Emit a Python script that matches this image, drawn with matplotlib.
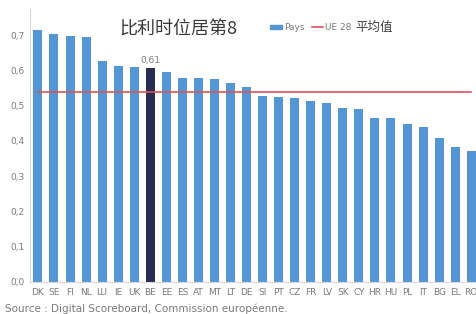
import matplotlib.pyplot as plt
from matplotlib.lines import Line2D
from matplotlib.patches import Patch

plt.rcParams['font.family'] = ['DejaVu Sans', 'Noto Sans CJK SC']

countries = ['DK', 'SE', 'FI', 'NL', 'LU', 'IE', 'UK', 'BE', 'EE', 'ES', 'AT', 'MT', 'LT', 'DE',
             'SI', 'PT', 'CZ', 'FR', 'LV', 'SK', 'CY', 'HR', 'HU', 'PL', 'IT', 'BG', 'EL', 'RO']
scores = [0.715, 0.704, 0.699, 0.696, 0.626, 0.612, 0.611, 0.607, 0.596, 0.579, 0.579, 0.575,
          0.565, 0.554, 0.528, 0.524, 0.522, 0.513, 0.507, 0.493, 0.491, 0.464, 0.464, 0.448,
          0.440, 0.408, 0.382, 0.372]
eu_mean = 0.539
highlight = 'BE'
yticks = [0.0, 0.1, 0.2, 0.3, 0.4, 0.5, 0.6, 0.7]

blue = '#5297d3'
navy = '#2a2d52'
red = '#e0505c'
grey = '#7a7a7a'

fig = plt.figure(figsize=(4.77, 3.14), dpi=100)
ax = fig.add_axes([0.063, 0.102, 0.937, 0.87])

x = list(range(len(countries)))
colors = [navy if c == highlight else blue for c in countries]
ax.bar(x, scores, width=0.56, color=colors, zorder=2)
ax.plot(x, [eu_mean] * len(x), color=red, lw=1.2, zorder=3)

i = countries.index(highlight)
ax.text(i, scores[i] + 0.008, f'{scores[i]:.2f}'.replace('.', ','), ha='center', va='bottom',
        fontsize=6.5, color=grey)

ax.set_xlim(-0.49, 27.36)
ax.set_ylim(0, 0.775)
ax.set_xticks(x)
ax.set_xticklabels(countries, fontsize=6.5, color=grey)
ax.set_yticks(yticks)
ax.set_yticklabels([f'{v:.1f}'.replace('.', ',') for v in yticks], fontsize=6.5, color=grey)
ax.tick_params(length=0, pad=4)
for s in ['top', 'right']:
    ax.spines[s].set_visible(False)
for s in ['left', 'bottom']:
    ax.spines[s].set_color('#d8d8d8')
    ax.spines[s].set_linewidth(0.8)

fig.text(0.25, 0.905, '比利时位居第8', fontsize=13, color='#3a3a3a', ha='left', va='center',
         family=['Noto Sans CJK SC'])

handles = [Patch(color=blue), Line2D([0], [0], color=red, lw=1.2)]
fig.legend(handles, ['Pays', 'UE 28'], loc='center left', bbox_to_anchor=(0.55, 0.912),
           ncol=2, frameon=False, fontsize=6.5, handlelength=1.3, handleheight=0.35,
           handletextpad=0.2, columnspacing=0.8, labelcolor=grey)
fig.text(0.745, 0.914, '平均值', fontsize=9, color='#444444', ha='left', va='center',
         family=['Noto Sans CJK SC'])

fig.text(0.01, 0.017, 'Source : Digital Scoreboard, Commission européenne.', fontsize=7.5,
         color=grey, ha='left', va='center')

fig.savefig('out.png', dpi=100)
